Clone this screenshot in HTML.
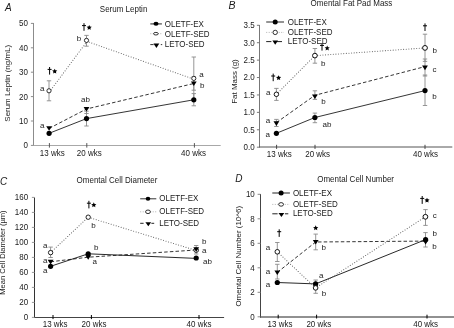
<!DOCTYPE html>
<html><head><meta charset="utf-8"><style>
html,body{margin:0;padding:0;background:#fff;}
body{width:454px;height:328px;overflow:hidden;}
svg{display:block;font-family:"Liberation Sans", sans-serif;filter:grayscale(1);}
</style></head><body>
<svg width="454" height="328" viewBox="0 0 454 328">
<rect width="454" height="328" fill="#fff"/>
<text transform="translate(5.0 10.8) scale(1 1.0)" font-size="10" text-anchor="start" font-style="italic" fill="#1a1a1a">A</text>
<text transform="translate(99.8 11.6) scale(1 1.12)" font-size="8" text-anchor="start" fill="#1a1a1a">Serum Leptin</text>
<line x1="33.5" y1="23.0" x2="33.5" y2="146.0" stroke="#8c8c8c" stroke-width="1" stroke-linecap="butt"/>
<line x1="33.0" y1="145.5" x2="220.7" y2="145.5" stroke="#a8a8a8" stroke-width="1" stroke-linecap="butt"/>
<line x1="30.9" y1="145.4" x2="33.5" y2="145.4" stroke="#8c8c8c" stroke-width="1" stroke-linecap="butt"/>
<text transform="translate(28.0 148.3) scale(1 1.12)" font-size="8" text-anchor="end" fill="#1a1a1a">0</text>
<line x1="30.9" y1="121.0" x2="33.5" y2="121.0" stroke="#8c8c8c" stroke-width="1" stroke-linecap="butt"/>
<text transform="translate(28.0 123.9) scale(1 1.12)" font-size="8" text-anchor="end" fill="#1a1a1a">10</text>
<line x1="30.9" y1="96.60000000000001" x2="33.5" y2="96.60000000000001" stroke="#8c8c8c" stroke-width="1" stroke-linecap="butt"/>
<text transform="translate(28.0 99.50000000000001) scale(1 1.12)" font-size="8" text-anchor="end" fill="#1a1a1a">20</text>
<line x1="30.9" y1="72.2" x2="33.5" y2="72.2" stroke="#8c8c8c" stroke-width="1" stroke-linecap="butt"/>
<text transform="translate(28.0 75.10000000000001) scale(1 1.12)" font-size="8" text-anchor="end" fill="#1a1a1a">30</text>
<line x1="30.9" y1="47.80000000000001" x2="33.5" y2="47.80000000000001" stroke="#8c8c8c" stroke-width="1" stroke-linecap="butt"/>
<text transform="translate(28.0 50.70000000000001) scale(1 1.12)" font-size="8" text-anchor="end" fill="#1a1a1a">40</text>
<line x1="30.9" y1="23.400000000000006" x2="33.5" y2="23.400000000000006" stroke="#8c8c8c" stroke-width="1" stroke-linecap="butt"/>
<text transform="translate(28.0 26.300000000000004) scale(1 1.12)" font-size="8" text-anchor="end" fill="#1a1a1a">50</text>
<line x1="49.4" y1="143.1" x2="49.4" y2="147.6" stroke="#555" stroke-width="1" stroke-linecap="butt"/>
<text transform="translate(39.8 155.9) scale(1 1.12)" font-size="8" text-anchor="start" fill="#1a1a1a">13 wks</text>
<line x1="86.8" y1="143.1" x2="86.8" y2="147.6" stroke="#555" stroke-width="1" stroke-linecap="butt"/>
<text transform="translate(76.8 155.9) scale(1 1.12)" font-size="8" text-anchor="start" fill="#1a1a1a">20 wks</text>
<line x1="194.4" y1="143.1" x2="194.4" y2="147.6" stroke="#555" stroke-width="1" stroke-linecap="butt"/>
<text transform="translate(181.1 155.9) scale(1 1.12)" font-size="8" text-anchor="start" fill="#1a1a1a">40 wks</text>
<text transform="translate(9.7 83.3) rotate(-90) scale(1.12 1)" font-size="7.1" text-anchor="middle" fill="#1a1a1a">Serum Leptin (ng/mL)</text>
<line x1="150.3" y1="23.9" x2="161.9" y2="23.9" stroke="#555" stroke-width="1.3" stroke-linecap="butt"/>
<ellipse cx="156.0" cy="23.8" rx="2.5" ry="2.0" fill="#000"/>
<text transform="translate(164.8 26.7) scale(1 1.12)" font-size="8" text-anchor="start" fill="#1a1a1a">OLETF-EX</text>
<line x1="150.3" y1="33.7" x2="161.9" y2="33.7" stroke="#aaa" stroke-width="0.9" stroke-dasharray="1,1.5" stroke-linecap="butt"/>
<ellipse cx="155.9" cy="33.7" rx="2.3000000000000003" ry="1.2999999999999998" fill="#fff" stroke="#000" stroke-width="0.8"/>
<text transform="translate(164.8 36.5) scale(1 1.12)" font-size="8" text-anchor="start" fill="#1a1a1a">OLETF-SED</text>
<line x1="150.3" y1="44.6" x2="153.6" y2="44.6" stroke="#333" stroke-width="1" stroke-linecap="butt"/>
<line x1="160.8" y1="44.6" x2="162.2" y2="44.6" stroke="#333" stroke-width="1" stroke-linecap="butt"/>
<polygon points="153.5,43.5 159.3,43.5 156.4,47.9" fill="#000"/>
<text transform="translate(164.8 46.6) scale(1 1.12)" font-size="8" text-anchor="start" fill="#1a1a1a">LETO-SED</text>
<line x1="193.8" y1="57.0" x2="193.8" y2="99.8" stroke="#8a8a8a" stroke-width="0.9" stroke-linecap="butt"/>
<line x1="191.60000000000002" y1="57.0" x2="196.0" y2="57.0" stroke="#8a8a8a" stroke-width="0.9" stroke-linecap="butt"/>
<line x1="191.60000000000002" y1="99.8" x2="196.0" y2="99.8" stroke="#8a8a8a" stroke-width="0.9" stroke-linecap="butt"/>
<line x1="193.8" y1="76.8" x2="193.8" y2="90.2" stroke="#8a8a8a" stroke-width="0.9" stroke-linecap="butt"/>
<line x1="191.60000000000002" y1="76.8" x2="196.0" y2="76.8" stroke="#8a8a8a" stroke-width="0.9" stroke-linecap="butt"/>
<line x1="191.60000000000002" y1="90.2" x2="196.0" y2="90.2" stroke="#8a8a8a" stroke-width="0.9" stroke-linecap="butt"/>
<line x1="193.8" y1="93.6" x2="193.8" y2="105.8" stroke="#8a8a8a" stroke-width="0.9" stroke-linecap="butt"/>
<line x1="191.60000000000002" y1="93.6" x2="196.0" y2="93.6" stroke="#8a8a8a" stroke-width="0.9" stroke-linecap="butt"/>
<line x1="191.60000000000002" y1="105.8" x2="196.0" y2="105.8" stroke="#8a8a8a" stroke-width="0.9" stroke-linecap="butt"/>
<line x1="49.0" y1="80.8" x2="49.0" y2="100.8" stroke="#8a8a8a" stroke-width="0.9" stroke-linecap="butt"/>
<line x1="46.8" y1="80.8" x2="51.2" y2="80.8" stroke="#8a8a8a" stroke-width="0.9" stroke-linecap="butt"/>
<line x1="46.8" y1="100.8" x2="51.2" y2="100.8" stroke="#8a8a8a" stroke-width="0.9" stroke-linecap="butt"/>
<line x1="86.5" y1="35.4" x2="86.5" y2="46.2" stroke="#8a8a8a" stroke-width="0.9" stroke-linecap="butt"/>
<line x1="84.3" y1="35.4" x2="88.7" y2="35.4" stroke="#8a8a8a" stroke-width="0.9" stroke-linecap="butt"/>
<line x1="84.3" y1="46.2" x2="88.7" y2="46.2" stroke="#8a8a8a" stroke-width="0.9" stroke-linecap="butt"/>
<line x1="86.5" y1="111.2" x2="86.5" y2="126.0" stroke="#8a8a8a" stroke-width="0.9" stroke-linecap="butt"/>
<line x1="84.3" y1="111.2" x2="88.7" y2="111.2" stroke="#8a8a8a" stroke-width="0.9" stroke-linecap="butt"/>
<line x1="84.3" y1="126.0" x2="88.7" y2="126.0" stroke="#8a8a8a" stroke-width="0.9" stroke-linecap="butt"/>
<line x1="86.5" y1="108.0" x2="86.5" y2="113.5" stroke="#8a8a8a" stroke-width="0.9" stroke-linecap="butt"/>
<line x1="84.3" y1="108.0" x2="88.7" y2="108.0" stroke="#8a8a8a" stroke-width="0.9" stroke-linecap="butt"/>
<line x1="84.3" y1="113.5" x2="88.7" y2="113.5" stroke="#8a8a8a" stroke-width="0.9" stroke-linecap="butt"/>
<polyline points="49.1,133.3 86.5,118.6 193.8,99.8" fill="none" stroke="#111" stroke-width="0.85" stroke-linecap="butt"/>
<polyline points="49.1,128.4 86.5,109.0 193.8,83.5" fill="none" stroke="#111" stroke-width="0.85" stroke-dasharray="3.5,2.2" stroke-linecap="butt"/>
<polyline points="49.5,91.8 87.0,41.4 193.8,79.2" fill="none" stroke="#666" stroke-width="1.1" stroke-dasharray="0.01,2.6" stroke-linecap="round"/>
<circle cx="49.1" cy="133.3" r="2.6" fill="#000"/>
<circle cx="86.5" cy="118.6" r="2.6" fill="#000"/>
<circle cx="193.8" cy="99.8" r="2.6" fill="#000"/>
<polygon points="46.2,126.19999999999999 52.0,126.19999999999999 49.1,130.79999999999998" fill="#000"/>
<polygon points="83.6,107.0 89.4,107.0 86.5,111.6" fill="#000"/>
<polygon points="190.9,81.5 196.70000000000002,81.5 193.8,86.1" fill="#000"/>
<circle cx="49.0" cy="90.8" r="2.1" fill="#fff" stroke="#000" stroke-width="0.8"/>
<circle cx="86.5" cy="40.4" r="2.1" fill="#fff" stroke="#000" stroke-width="0.8"/>
<circle cx="193.8" cy="78.4" r="2.1" fill="#fff" stroke="#000" stroke-width="0.8"/>
<text transform="translate(40.0 90.89999999999999) scale(1 1.0)" font-size="8" text-anchor="start" fill="#1a1a1a">a</text>
<text transform="translate(40.0 128.2) scale(1 1.0)" font-size="8" text-anchor="start" fill="#1a1a1a">a</text>
<text transform="translate(76.8 41.2) scale(1 1.0)" font-size="8" text-anchor="start" fill="#1a1a1a">b</text>
<text transform="translate(81.0 102.19999999999999) scale(1 1.0)" font-size="8" text-anchor="start" fill="#1a1a1a">ab</text>
<text transform="translate(199.2 76.8) scale(1 1.0)" font-size="8" text-anchor="start" fill="#1a1a1a">a</text>
<text transform="translate(200.0 88.19999999999999) scale(1 1.0)" font-size="8" text-anchor="start" fill="#1a1a1a">b</text>
<line x1="49.6" y1="67.0" x2="49.6" y2="74.6" stroke="#000" stroke-width="1.0" stroke-linecap="butt"/>
<line x1="47.6" y1="69.4" x2="51.6" y2="69.4" stroke="#000" stroke-width="1.0" stroke-linecap="butt"/>
<polygon points="54.70,68.70 55.46,70.35 57.27,70.57 55.93,71.80 56.29,73.58 54.70,72.70 53.11,73.58 53.47,71.80 52.13,70.57 53.94,70.35" fill="#000"/>
<line x1="84.0" y1="23.2" x2="84.0" y2="30.799999999999997" stroke="#000" stroke-width="1.0" stroke-linecap="butt"/>
<line x1="82.0" y1="25.599999999999998" x2="86.0" y2="25.599999999999998" stroke="#000" stroke-width="1.0" stroke-linecap="butt"/>
<polygon points="89.20,24.90 89.96,26.55 91.77,26.77 90.43,28.00 90.79,29.78 89.20,28.90 87.61,29.78 87.97,28.00 86.63,26.77 88.44,26.55" fill="#000"/>
<text transform="translate(228.6 9.0) scale(1 1.0)" font-size="10.5" text-anchor="start" font-style="italic" fill="#1a1a1a">B</text>
<text transform="translate(310.6 5.8) scale(1 1.12)" font-size="8" text-anchor="start" fill="#1a1a1a">Omental Fat Pad Mass</text>
<line x1="259.5" y1="25.0" x2="259.5" y2="147.5" stroke="#777" stroke-width="1" stroke-linecap="butt"/>
<line x1="259.0" y1="147.0" x2="452.3" y2="147.0" stroke="#555" stroke-width="1" stroke-linecap="butt"/>
<line x1="256.9" y1="147.2" x2="259.5" y2="147.2" stroke="#777" stroke-width="1" stroke-linecap="butt"/>
<text transform="translate(254.6 150.1) scale(1 1.12)" font-size="8" text-anchor="end" fill="#1a1a1a">0.0</text>
<line x1="256.9" y1="129.785" x2="259.5" y2="129.785" stroke="#777" stroke-width="1" stroke-linecap="butt"/>
<text transform="translate(254.6 132.685) scale(1 1.12)" font-size="8" text-anchor="end" fill="#1a1a1a">0.5</text>
<line x1="256.9" y1="112.36999999999999" x2="259.5" y2="112.36999999999999" stroke="#777" stroke-width="1" stroke-linecap="butt"/>
<text transform="translate(254.6 115.27) scale(1 1.12)" font-size="8" text-anchor="end" fill="#1a1a1a">1.0</text>
<line x1="256.9" y1="94.95499999999998" x2="259.5" y2="94.95499999999998" stroke="#777" stroke-width="1" stroke-linecap="butt"/>
<text transform="translate(254.6 97.85499999999999) scale(1 1.12)" font-size="8" text-anchor="end" fill="#1a1a1a">1.5</text>
<line x1="256.9" y1="77.53999999999999" x2="259.5" y2="77.53999999999999" stroke="#777" stroke-width="1" stroke-linecap="butt"/>
<text transform="translate(254.6 80.44) scale(1 1.12)" font-size="8" text-anchor="end" fill="#1a1a1a">2.0</text>
<line x1="256.9" y1="60.125" x2="259.5" y2="60.125" stroke="#777" stroke-width="1" stroke-linecap="butt"/>
<text transform="translate(254.6 63.025) scale(1 1.12)" font-size="8" text-anchor="end" fill="#1a1a1a">2.5</text>
<line x1="256.9" y1="42.709999999999994" x2="259.5" y2="42.709999999999994" stroke="#777" stroke-width="1" stroke-linecap="butt"/>
<text transform="translate(254.6 45.60999999999999) scale(1 1.12)" font-size="8" text-anchor="end" fill="#1a1a1a">3.0</text>
<line x1="256.9" y1="25.294999999999987" x2="259.5" y2="25.294999999999987" stroke="#777" stroke-width="1" stroke-linecap="butt"/>
<text transform="translate(254.6 28.194999999999986) scale(1 1.12)" font-size="8" text-anchor="end" fill="#1a1a1a">3.5</text>
<line x1="276.6" y1="144.8" x2="276.6" y2="148.9" stroke="#444" stroke-width="1" stroke-linecap="butt"/>
<text transform="translate(266.8 157.0) scale(1 1.12)" font-size="8" text-anchor="start" fill="#1a1a1a">13 wks</text>
<line x1="315.0" y1="144.8" x2="315.0" y2="148.9" stroke="#444" stroke-width="1" stroke-linecap="butt"/>
<text transform="translate(305.2 157.0) scale(1 1.12)" font-size="8" text-anchor="start" fill="#1a1a1a">20 wks</text>
<line x1="425.0" y1="144.8" x2="425.0" y2="148.9" stroke="#444" stroke-width="1" stroke-linecap="butt"/>
<text transform="translate(413.0 157.0) scale(1 1.12)" font-size="8" text-anchor="start" fill="#1a1a1a">40 wks</text>
<text transform="translate(236.7 81.5) rotate(-90) scale(1.12 1)" font-size="7.1" text-anchor="middle" fill="#1a1a1a">Fat Mass (g)</text>
<line x1="266.2" y1="22.0" x2="284.0" y2="22.0" stroke="#666" stroke-width="1.4" stroke-linecap="butt"/>
<circle cx="275.2" cy="22.0" r="2.5" fill="#000"/>
<text transform="translate(287.7 25.0) scale(1 1.12)" font-size="8" text-anchor="start" fill="#1a1a1a">OLETF-EX</text>
<line x1="266.2" y1="32.4" x2="284.0" y2="32.4" stroke="#aaa" stroke-width="0.9" stroke-dasharray="1,1.5" stroke-linecap="butt"/>
<circle cx="275.2" cy="32.4" r="2.2" fill="#fff" stroke="#000" stroke-width="0.8"/>
<text transform="translate(287.7 34.8) scale(1 1.12)" font-size="8" text-anchor="start" fill="#1a1a1a">OLETF-SED</text>
<line x1="266.2" y1="41.6" x2="271.4" y2="41.6" stroke="#222" stroke-width="1" stroke-linecap="butt"/>
<line x1="276.7" y1="41.6" x2="282.0" y2="41.6" stroke="#222" stroke-width="1" stroke-linecap="butt"/>
<polygon points="272.4,40.400000000000006 278.0,40.400000000000006 275.2,44.800000000000004" fill="#000"/>
<text transform="translate(287.7 43.6) scale(1 1.12)" font-size="8" text-anchor="start" fill="#1a1a1a">LETO-SED</text>
<line x1="276.4" y1="88.4" x2="276.4" y2="100.4" stroke="#8a8a8a" stroke-width="0.9" stroke-linecap="butt"/>
<line x1="274.2" y1="88.4" x2="278.59999999999997" y2="88.4" stroke="#8a8a8a" stroke-width="0.9" stroke-linecap="butt"/>
<line x1="274.2" y1="100.4" x2="278.59999999999997" y2="100.4" stroke="#8a8a8a" stroke-width="0.9" stroke-linecap="butt"/>
<line x1="276.4" y1="119.4" x2="276.4" y2="126.5" stroke="#8a8a8a" stroke-width="0.9" stroke-linecap="butt"/>
<line x1="274.2" y1="119.4" x2="278.59999999999997" y2="119.4" stroke="#8a8a8a" stroke-width="0.9" stroke-linecap="butt"/>
<line x1="274.2" y1="126.5" x2="278.59999999999997" y2="126.5" stroke="#8a8a8a" stroke-width="0.9" stroke-linecap="butt"/>
<line x1="314.9" y1="48.5" x2="314.9" y2="63.2" stroke="#8a8a8a" stroke-width="0.9" stroke-linecap="butt"/>
<line x1="312.7" y1="48.5" x2="317.09999999999997" y2="48.5" stroke="#8a8a8a" stroke-width="0.9" stroke-linecap="butt"/>
<line x1="312.7" y1="63.2" x2="317.09999999999997" y2="63.2" stroke="#8a8a8a" stroke-width="0.9" stroke-linecap="butt"/>
<line x1="314.9" y1="90.8" x2="314.9" y2="99.4" stroke="#8a8a8a" stroke-width="0.9" stroke-linecap="butt"/>
<line x1="312.7" y1="90.8" x2="317.09999999999997" y2="90.8" stroke="#8a8a8a" stroke-width="0.9" stroke-linecap="butt"/>
<line x1="312.7" y1="99.4" x2="317.09999999999997" y2="99.4" stroke="#8a8a8a" stroke-width="0.9" stroke-linecap="butt"/>
<line x1="314.9" y1="113.1" x2="314.9" y2="122.7" stroke="#8a8a8a" stroke-width="0.9" stroke-linecap="butt"/>
<line x1="312.7" y1="113.1" x2="317.09999999999997" y2="113.1" stroke="#8a8a8a" stroke-width="0.9" stroke-linecap="butt"/>
<line x1="312.7" y1="122.7" x2="317.09999999999997" y2="122.7" stroke="#8a8a8a" stroke-width="0.9" stroke-linecap="butt"/>
<line x1="425.0" y1="34.2" x2="425.0" y2="61.4" stroke="#8a8a8a" stroke-width="0.9" stroke-linecap="butt"/>
<line x1="422.8" y1="34.2" x2="427.2" y2="34.2" stroke="#8a8a8a" stroke-width="0.9" stroke-linecap="butt"/>
<line x1="422.8" y1="61.4" x2="427.2" y2="61.4" stroke="#8a8a8a" stroke-width="0.9" stroke-linecap="butt"/>
<line x1="425.0" y1="59.0" x2="425.0" y2="76.0" stroke="#8a8a8a" stroke-width="0.9" stroke-linecap="butt"/>
<line x1="422.8" y1="59.0" x2="427.2" y2="59.0" stroke="#8a8a8a" stroke-width="0.9" stroke-linecap="butt"/>
<line x1="422.8" y1="76.0" x2="427.2" y2="76.0" stroke="#8a8a8a" stroke-width="0.9" stroke-linecap="butt"/>
<line x1="425.0" y1="75.0" x2="425.0" y2="105.5" stroke="#8a8a8a" stroke-width="0.9" stroke-linecap="butt"/>
<line x1="422.8" y1="75.0" x2="427.2" y2="75.0" stroke="#8a8a8a" stroke-width="0.9" stroke-linecap="butt"/>
<line x1="422.8" y1="105.5" x2="427.2" y2="105.5" stroke="#8a8a8a" stroke-width="0.9" stroke-linecap="butt"/>
<polyline points="276.4,133.3 314.9,117.5 425.0,90.6" fill="none" stroke="#111" stroke-width="0.85" stroke-linecap="butt"/>
<polyline points="276.4,122.6 314.9,95.3 425.0,66.6" fill="none" stroke="#111" stroke-width="0.85" stroke-dasharray="3.5,2.2" stroke-linecap="butt"/>
<polyline points="276.4,94.3 314.9,55.6 425.0,47.9" fill="none" stroke="#666" stroke-width="1.1" stroke-dasharray="0.01,2.6" stroke-linecap="round"/>
<circle cx="276.4" cy="133.3" r="2.6" fill="#000"/>
<circle cx="314.9" cy="117.5" r="2.6" fill="#000"/>
<circle cx="425.0" cy="90.6" r="2.6" fill="#000"/>
<polygon points="273.5,121.3 279.29999999999995,121.3 276.4,125.89999999999999" fill="#000"/>
<polygon points="312.0,94.4 317.79999999999995,94.4 314.9,99.0" fill="#000"/>
<polygon points="422.1,65.6 427.9,65.6 425.0,70.19999999999999" fill="#000"/>
<circle cx="276.4" cy="94.3" r="2.25" fill="#fff" stroke="#000" stroke-width="0.9"/>
<circle cx="314.9" cy="55.6" r="2.35" fill="#fff" stroke="#000" stroke-width="0.95"/>
<circle cx="425.0" cy="47.9" r="2.4" fill="#fff" stroke="#000" stroke-width="0.95"/>
<text transform="translate(266.0 95.19999999999999) scale(1 1.0)" font-size="8" text-anchor="start" fill="#1a1a1a">a</text>
<text transform="translate(265.8 122.8) scale(1 1.0)" font-size="8" text-anchor="start" fill="#1a1a1a">a</text>
<text transform="translate(265.6 136.9) scale(1 1.0)" font-size="8" text-anchor="start" fill="#1a1a1a">a</text>
<text transform="translate(321.0 66.0) scale(1 1.0)" font-size="8" text-anchor="start" fill="#1a1a1a">b</text>
<text transform="translate(321.3 104.0) scale(1 1.0)" font-size="8" text-anchor="start" fill="#1a1a1a">b</text>
<text transform="translate(322.6 126.8) scale(1 1.0)" font-size="8" text-anchor="start" fill="#1a1a1a">ab</text>
<text transform="translate(432.4 53.0) scale(1 1.0)" font-size="8" text-anchor="start" fill="#1a1a1a">b</text>
<text transform="translate(432.4 72.19999999999999) scale(1 1.0)" font-size="8" text-anchor="start" fill="#1a1a1a">c</text>
<text transform="translate(432.2 99.19999999999999) scale(1 1.0)" font-size="8" text-anchor="start" fill="#1a1a1a">b</text>
<line x1="273.2" y1="73.6" x2="273.2" y2="81.19999999999999" stroke="#000" stroke-width="1.0" stroke-linecap="butt"/>
<line x1="271.2" y1="76.0" x2="275.2" y2="76.0" stroke="#000" stroke-width="1.0" stroke-linecap="butt"/>
<polygon points="278.60,75.20 279.36,76.85 281.17,77.07 279.83,78.30 280.19,80.08 278.60,79.20 277.01,80.08 277.37,78.30 276.03,77.07 277.84,76.85" fill="#000"/>
<line x1="322.0" y1="43.0" x2="322.0" y2="50.6" stroke="#000" stroke-width="1.0" stroke-linecap="butt"/>
<line x1="320.0" y1="45.4" x2="324.0" y2="45.4" stroke="#000" stroke-width="1.0" stroke-linecap="butt"/>
<polygon points="327.20,45.50 327.96,47.15 329.77,47.37 328.43,48.60 328.79,50.38 327.20,49.50 325.61,50.38 325.97,48.60 324.63,47.37 326.44,47.15" fill="#000"/>
<line x1="425.0" y1="23.4" x2="425.0" y2="31.0" stroke="#000" stroke-width="1.0" stroke-linecap="butt"/>
<line x1="423.0" y1="25.799999999999997" x2="427.0" y2="25.799999999999997" stroke="#000" stroke-width="1.0" stroke-linecap="butt"/>
<text transform="translate(0.0 184.7) scale(1 1.0)" font-size="10" text-anchor="start" font-style="italic" fill="#1a1a1a">C</text>
<text transform="translate(76.6 182.6) scale(1 1.12)" font-size="8" text-anchor="start" fill="#1a1a1a">Omental Cell Diameter</text>
<line x1="34.5" y1="197.5" x2="34.5" y2="318.0" stroke="#333" stroke-width="1" stroke-linecap="butt"/>
<line x1="34.0" y1="317.5" x2="224.1" y2="317.5" stroke="#444" stroke-width="1" stroke-linecap="butt"/>
<line x1="31.9" y1="317.4" x2="34.5" y2="317.4" stroke="#999" stroke-width="1" stroke-linecap="butt"/>
<text transform="translate(28.2 320.29999999999995) scale(1 1.12)" font-size="8" text-anchor="end" fill="#1a1a1a">0</text>
<line x1="31.9" y1="302.4" x2="34.5" y2="302.4" stroke="#999" stroke-width="1" stroke-linecap="butt"/>
<text transform="translate(28.2 305.29999999999995) scale(1 1.12)" font-size="8" text-anchor="end" fill="#1a1a1a">20</text>
<line x1="31.9" y1="287.4" x2="34.5" y2="287.4" stroke="#999" stroke-width="1" stroke-linecap="butt"/>
<text transform="translate(28.2 290.29999999999995) scale(1 1.12)" font-size="8" text-anchor="end" fill="#1a1a1a">40</text>
<line x1="31.9" y1="272.4" x2="34.5" y2="272.4" stroke="#999" stroke-width="1" stroke-linecap="butt"/>
<text transform="translate(28.2 275.29999999999995) scale(1 1.12)" font-size="8" text-anchor="end" fill="#1a1a1a">60</text>
<line x1="31.9" y1="257.4" x2="34.5" y2="257.4" stroke="#999" stroke-width="1" stroke-linecap="butt"/>
<text transform="translate(28.2 260.29999999999995) scale(1 1.12)" font-size="8" text-anchor="end" fill="#1a1a1a">80</text>
<line x1="31.9" y1="242.39999999999998" x2="34.5" y2="242.39999999999998" stroke="#999" stroke-width="1" stroke-linecap="butt"/>
<text transform="translate(28.2 245.29999999999998) scale(1 1.12)" font-size="8" text-anchor="end" fill="#1a1a1a">100</text>
<line x1="31.9" y1="227.39999999999998" x2="34.5" y2="227.39999999999998" stroke="#999" stroke-width="1" stroke-linecap="butt"/>
<text transform="translate(28.2 230.29999999999998) scale(1 1.12)" font-size="8" text-anchor="end" fill="#1a1a1a">120</text>
<line x1="31.9" y1="212.39999999999998" x2="34.5" y2="212.39999999999998" stroke="#999" stroke-width="1" stroke-linecap="butt"/>
<text transform="translate(28.2 215.29999999999998) scale(1 1.12)" font-size="8" text-anchor="end" fill="#1a1a1a">140</text>
<line x1="31.9" y1="197.39999999999998" x2="34.5" y2="197.39999999999998" stroke="#999" stroke-width="1" stroke-linecap="butt"/>
<text transform="translate(28.2 200.29999999999998) scale(1 1.12)" font-size="8" text-anchor="end" fill="#1a1a1a">160</text>
<line x1="53.0" y1="315.0" x2="53.0" y2="319.1" stroke="#000" stroke-width="1" stroke-linecap="butt"/>
<text transform="translate(42.7 327.4) scale(1 1.12)" font-size="8" text-anchor="start" fill="#1a1a1a">13 wks</text>
<line x1="91.4" y1="315.0" x2="91.4" y2="319.1" stroke="#000" stroke-width="1" stroke-linecap="butt"/>
<text transform="translate(81.6 327.4) scale(1 1.12)" font-size="8" text-anchor="start" fill="#1a1a1a">20 wks</text>
<line x1="199.0" y1="315.0" x2="199.0" y2="319.1" stroke="#000" stroke-width="1" stroke-linecap="butt"/>
<text transform="translate(186.6 327.4) scale(1 1.12)" font-size="8" text-anchor="start" fill="#1a1a1a">40 wks</text>
<text transform="translate(5.3 252.6) rotate(-90) scale(1.035 1)" font-size="7.3" text-anchor="middle" fill="#1a1a1a">Mean Cell Diameter (µm)</text>
<line x1="140.2" y1="198.8" x2="156.3" y2="198.8" stroke="#333" stroke-width="1" stroke-linecap="butt"/>
<ellipse cx="148.0" cy="198.8" rx="2.3" ry="2.0" fill="#000"/>
<text transform="translate(159.3 201.1) scale(1 1.12)" font-size="8" text-anchor="start" fill="#1a1a1a">OLETF-EX</text>
<line x1="140.2" y1="211.8" x2="156.3" y2="211.8" stroke="#aaa" stroke-width="0.9" stroke-dasharray="1,1.5" stroke-linecap="butt"/>
<ellipse cx="148.0" cy="211.8" rx="2.4" ry="1.8000000000000003" fill="#fff" stroke="#000" stroke-width="0.8"/>
<text transform="translate(159.3 214.2) scale(1 1.12)" font-size="8" text-anchor="start" fill="#1a1a1a">OLETF-SED</text>
<line x1="140.2" y1="223.3" x2="143.6" y2="223.3" stroke="#222" stroke-width="1" stroke-linecap="butt"/>
<line x1="151.4" y1="223.3" x2="154.2" y2="223.3" stroke="#222" stroke-width="1" stroke-linecap="butt"/>
<polygon points="145.4,222.2 151.20000000000002,222.2 148.3,226.2" fill="#000"/>
<text transform="translate(159.3 225.8) scale(1 1.12)" font-size="8" text-anchor="start" fill="#1a1a1a">LETO-SED</text>
<line x1="50.6" y1="247.1" x2="50.6" y2="257.5" stroke="#8a8a8a" stroke-width="0.9" stroke-linecap="butt"/>
<line x1="48.4" y1="247.1" x2="52.800000000000004" y2="247.1" stroke="#8a8a8a" stroke-width="0.9" stroke-linecap="butt"/>
<line x1="48.4" y1="257.5" x2="52.800000000000004" y2="257.5" stroke="#8a8a8a" stroke-width="0.9" stroke-linecap="butt"/>
<line x1="196.2" y1="245.5" x2="196.2" y2="254.0" stroke="#8a8a8a" stroke-width="0.9" stroke-linecap="butt"/>
<line x1="194.0" y1="245.5" x2="198.39999999999998" y2="245.5" stroke="#8a8a8a" stroke-width="0.9" stroke-linecap="butt"/>
<line x1="194.0" y1="254.0" x2="198.39999999999998" y2="254.0" stroke="#8a8a8a" stroke-width="0.9" stroke-linecap="butt"/>
<polyline points="50.6,266.3 88.2,253.8 196.2,258.4" fill="none" stroke="#111" stroke-width="0.9" stroke-linecap="butt"/>
<polyline points="50.6,261.8 88.2,257.2 196.2,250.0" fill="none" stroke="#111" stroke-width="0.85" stroke-dasharray="3.5,2.2" stroke-linecap="butt"/>
<polyline points="50.6,252.6 88.2,217.2 196.2,250.5" fill="none" stroke="#666" stroke-width="1.1" stroke-dasharray="0.01,2.6" stroke-linecap="round"/>
<polygon points="47.7,259.8 53.5,259.8 50.6,264.40000000000003" fill="#000"/>
<polygon points="85.3,255.2 91.10000000000001,255.2 88.2,259.8" fill="#000"/>
<circle cx="50.6" cy="266.3" r="2.6" fill="#000"/>
<circle cx="88.2" cy="253.8" r="2.6" fill="#000"/>
<circle cx="196.2" cy="258.0" r="2.6" fill="#000"/>
<circle cx="50.6" cy="252.6" r="2.2" fill="#fff" stroke="#000" stroke-width="0.85"/>
<circle cx="88.2" cy="217.2" r="2.2" fill="#fff" stroke="#000" stroke-width="0.85"/>
<circle cx="196.2" cy="250.2" r="2.3" fill="#fff" stroke="#000" stroke-width="0.85"/>
<polygon points="193.29999999999998,247.3 199.1,247.3 196.2,251.9" fill="#000"/>
<text transform="translate(43.1 248.2) scale(1 1.0)" font-size="8" text-anchor="start" fill="#1a1a1a">a</text>
<text transform="translate(43.1 262.8) scale(1 1.0)" font-size="8" text-anchor="start" fill="#1a1a1a">a</text>
<text transform="translate(43.1 272.5) scale(1 1.0)" font-size="8" text-anchor="start" fill="#1a1a1a">a</text>
<text transform="translate(91.3 227.7) scale(1 1.0)" font-size="8" text-anchor="start" fill="#1a1a1a">b</text>
<text transform="translate(94.0 249.9) scale(1 1.0)" font-size="8" text-anchor="start" fill="#1a1a1a">b</text>
<text transform="translate(92.6 264.40000000000003) scale(1 1.0)" font-size="8" text-anchor="start" fill="#1a1a1a">a</text>
<text transform="translate(202.0 243.9) scale(1 1.0)" font-size="8" text-anchor="start" fill="#1a1a1a">b</text>
<text transform="translate(202.0 253.1) scale(1 1.0)" font-size="8" text-anchor="start" fill="#1a1a1a">a</text>
<text transform="translate(203.0 264.1) scale(1 1.0)" font-size="8" text-anchor="start" fill="#1a1a1a">ab</text>
<line x1="88.9" y1="200.8" x2="88.9" y2="208.4" stroke="#000" stroke-width="1.0" stroke-linecap="butt"/>
<line x1="86.9" y1="203.20000000000002" x2="90.9" y2="203.20000000000002" stroke="#000" stroke-width="1.0" stroke-linecap="butt"/>
<polygon points="93.80,202.30 94.56,203.95 96.37,204.17 95.03,205.40 95.39,207.18 93.80,206.30 92.21,207.18 92.57,205.40 91.23,204.17 93.04,203.95" fill="#000"/>
<text transform="translate(235.3 181.6) scale(1 1.0)" font-size="10" text-anchor="start" font-style="italic" fill="#1a1a1a">D</text>
<text transform="translate(317.2 182.1) scale(1 1.12)" font-size="8" text-anchor="start" fill="#1a1a1a">Omental Cell Number</text>
<line x1="260.5" y1="194.0" x2="260.5" y2="317.5" stroke="#444" stroke-width="1" stroke-linecap="butt"/>
<line x1="260.0" y1="317.0" x2="454" y2="317.0" stroke="#222" stroke-width="1" stroke-linecap="butt"/>
<line x1="257.6" y1="316.8" x2="260.5" y2="316.8" stroke="#888" stroke-width="1" stroke-linecap="butt"/>
<text transform="translate(254.8 319.7) scale(1 1.12)" font-size="8" text-anchor="end" fill="#1a1a1a">0</text>
<line x1="257.6" y1="292.3" x2="260.5" y2="292.3" stroke="#888" stroke-width="1" stroke-linecap="butt"/>
<text transform="translate(254.8 295.2) scale(1 1.12)" font-size="8" text-anchor="end" fill="#1a1a1a">2</text>
<line x1="257.6" y1="267.8" x2="260.5" y2="267.8" stroke="#888" stroke-width="1" stroke-linecap="butt"/>
<text transform="translate(254.8 270.7) scale(1 1.12)" font-size="8" text-anchor="end" fill="#1a1a1a">4</text>
<line x1="257.6" y1="243.3" x2="260.5" y2="243.3" stroke="#888" stroke-width="1" stroke-linecap="butt"/>
<text transform="translate(254.8 246.20000000000002) scale(1 1.12)" font-size="8" text-anchor="end" fill="#1a1a1a">6</text>
<line x1="257.6" y1="218.8" x2="260.5" y2="218.8" stroke="#888" stroke-width="1" stroke-linecap="butt"/>
<text transform="translate(254.8 221.70000000000002) scale(1 1.12)" font-size="8" text-anchor="end" fill="#1a1a1a">8</text>
<line x1="257.6" y1="194.3" x2="260.5" y2="194.3" stroke="#888" stroke-width="1" stroke-linecap="butt"/>
<text transform="translate(254.8 197.20000000000002) scale(1 1.12)" font-size="8" text-anchor="end" fill="#1a1a1a">10</text>
<line x1="278.2" y1="314.7" x2="278.2" y2="318.5" stroke="#000" stroke-width="1" stroke-linecap="butt"/>
<text transform="translate(267.6 327.4) scale(1 1.12)" font-size="8" text-anchor="start" fill="#1a1a1a">13 wks</text>
<line x1="316.6" y1="314.7" x2="316.6" y2="318.5" stroke="#000" stroke-width="1" stroke-linecap="butt"/>
<text transform="translate(306.4 327.4) scale(1 1.12)" font-size="8" text-anchor="start" fill="#1a1a1a">20 wks</text>
<line x1="427.0" y1="314.7" x2="427.0" y2="318.5" stroke="#000" stroke-width="1" stroke-linecap="butt"/>
<text transform="translate(413.2 327.4) scale(1 1.12)" font-size="8" text-anchor="start" fill="#1a1a1a">40 wks</text>
<text transform="translate(241.1 256.3) rotate(-90) scale(1.12 1)" font-size="7.1" text-anchor="middle" fill="#1a1a1a">Omental Cell Number (10^6)</text>
<line x1="272.3" y1="193.0" x2="289.9" y2="193.0" stroke="#555" stroke-width="1.3" stroke-linecap="butt"/>
<circle cx="281.1" cy="193.0" r="2.5" fill="#000"/>
<text transform="translate(292.9 195.6) scale(1 1.12)" font-size="8" text-anchor="start" fill="#1a1a1a">OLETF-EX</text>
<line x1="272.3" y1="204.4" x2="289.9" y2="204.4" stroke="#aaa" stroke-width="0.9" stroke-dasharray="1,1.5" stroke-linecap="butt"/>
<ellipse cx="281.1" cy="204.4" rx="2.4" ry="1.8000000000000003" fill="#fff" stroke="#000" stroke-width="0.8"/>
<text transform="translate(292.9 207.1) scale(1 1.12)" font-size="8" text-anchor="start" fill="#1a1a1a">OLETF-SED</text>
<line x1="272.3" y1="213.8" x2="277.6" y2="213.8" stroke="#222" stroke-width="1" stroke-linecap="butt"/>
<line x1="285.0" y1="213.8" x2="288.3" y2="213.8" stroke="#222" stroke-width="1" stroke-linecap="butt"/>
<polygon points="278.5,213.0 284.29999999999995,213.0 281.4,217.1" fill="#000"/>
<text transform="translate(292.9 216.3) scale(1 1.12)" font-size="8" text-anchor="start" fill="#1a1a1a">LETO-SED</text>
<line x1="277.3" y1="242.5" x2="277.3" y2="261.5" stroke="#8a8a8a" stroke-width="0.9" stroke-linecap="butt"/>
<line x1="275.1" y1="242.5" x2="279.5" y2="242.5" stroke="#8a8a8a" stroke-width="0.9" stroke-linecap="butt"/>
<line x1="275.1" y1="261.5" x2="279.5" y2="261.5" stroke="#8a8a8a" stroke-width="0.9" stroke-linecap="butt"/>
<line x1="277.3" y1="264.3" x2="277.3" y2="279.0" stroke="#8a8a8a" stroke-width="0.9" stroke-linecap="butt"/>
<line x1="275.1" y1="264.3" x2="279.5" y2="264.3" stroke="#8a8a8a" stroke-width="0.9" stroke-linecap="butt"/>
<line x1="275.1" y1="279.0" x2="279.5" y2="279.0" stroke="#8a8a8a" stroke-width="0.9" stroke-linecap="butt"/>
<line x1="315.7" y1="234.1" x2="315.7" y2="249.8" stroke="#8a8a8a" stroke-width="0.9" stroke-linecap="butt"/>
<line x1="313.5" y1="234.1" x2="317.9" y2="234.1" stroke="#8a8a8a" stroke-width="0.9" stroke-linecap="butt"/>
<line x1="313.5" y1="249.8" x2="317.9" y2="249.8" stroke="#8a8a8a" stroke-width="0.9" stroke-linecap="butt"/>
<line x1="315.7" y1="280.0" x2="315.7" y2="293.3" stroke="#8a8a8a" stroke-width="0.9" stroke-linecap="butt"/>
<line x1="313.5" y1="280.0" x2="317.9" y2="280.0" stroke="#8a8a8a" stroke-width="0.9" stroke-linecap="butt"/>
<line x1="313.5" y1="293.3" x2="317.9" y2="293.3" stroke="#8a8a8a" stroke-width="0.9" stroke-linecap="butt"/>
<line x1="425.5" y1="209.6" x2="425.5" y2="225.4" stroke="#8a8a8a" stroke-width="0.9" stroke-linecap="butt"/>
<line x1="423.3" y1="209.6" x2="427.7" y2="209.6" stroke="#8a8a8a" stroke-width="0.9" stroke-linecap="butt"/>
<line x1="423.3" y1="225.4" x2="427.7" y2="225.4" stroke="#8a8a8a" stroke-width="0.9" stroke-linecap="butt"/>
<line x1="425.5" y1="232.6" x2="425.5" y2="247.0" stroke="#8a8a8a" stroke-width="0.9" stroke-linecap="butt"/>
<line x1="423.3" y1="232.6" x2="427.7" y2="232.6" stroke="#8a8a8a" stroke-width="0.9" stroke-linecap="butt"/>
<line x1="423.3" y1="247.0" x2="427.7" y2="247.0" stroke="#8a8a8a" stroke-width="0.9" stroke-linecap="butt"/>
<polyline points="277.3,282.5 315.6,283.9 425.6,239.6" fill="none" stroke="#111" stroke-width="0.9" stroke-linecap="butt"/>
<polyline points="277.3,272.4 315.7,242.0 425.6,241.1" fill="none" stroke="#111" stroke-width="0.85" stroke-dasharray="3.5,2.2" stroke-linecap="butt"/>
<polyline points="277.3,251.8 315.6,287.9 425.4,216.8" fill="none" stroke="#666" stroke-width="1.1" stroke-dasharray="0.01,2.6" stroke-linecap="round"/>
<polygon points="274.40000000000003,270.4 280.2,270.4 277.3,275.0" fill="#000"/>
<polygon points="312.8,240.0 318.59999999999997,240.0 315.7,244.6" fill="#000"/>
<polygon points="422.70000000000005,240.0 428.5,240.0 425.6,244.6" fill="#000"/>
<circle cx="277.3" cy="282.5" r="2.6" fill="#000"/>
<circle cx="315.6" cy="283.9" r="2.6" fill="#000"/>
<circle cx="425.6" cy="239.6" r="2.6" fill="#000"/>
<circle cx="277.3" cy="251.8" r="2.3" fill="#fff" stroke="#000" stroke-width="0.9"/>
<circle cx="315.6" cy="287.9" r="2.3" fill="#fff" stroke="#000" stroke-width="0.9"/>
<circle cx="425.4" cy="216.8" r="2.4" fill="#fff" stroke="#000" stroke-width="0.95"/>
<text transform="translate(265.7 250.4) scale(1 1.0)" font-size="8" text-anchor="start" fill="#1a1a1a">a</text>
<text transform="translate(265.7 273.90000000000003) scale(1 1.0)" font-size="8" text-anchor="start" fill="#1a1a1a">a</text>
<text transform="translate(265.7 287.3) scale(1 1.0)" font-size="8" text-anchor="start" fill="#1a1a1a">a</text>
<text transform="translate(321.4 250.29999999999998) scale(1 1.0)" font-size="8" text-anchor="start" fill="#1a1a1a">b</text>
<text transform="translate(319.0 278.3) scale(1 1.0)" font-size="8" text-anchor="start" fill="#1a1a1a">a</text>
<text transform="translate(321.7 296.0) scale(1 1.0)" font-size="8" text-anchor="start" fill="#1a1a1a">b</text>
<text transform="translate(432.4 236.0) scale(1 1.0)" font-size="8" text-anchor="start" fill="#1a1a1a">b</text>
<text transform="translate(432.2 249.2) scale(1 1.0)" font-size="8" text-anchor="start" fill="#1a1a1a">b</text>
<text transform="translate(432.7 217.6) scale(1 1.0)" font-size="8" text-anchor="start" fill="#1a1a1a">c</text>
<line x1="279.2" y1="229.3" x2="279.2" y2="236.9" stroke="#000" stroke-width="1.0" stroke-linecap="butt"/>
<line x1="277.2" y1="231.70000000000002" x2="281.2" y2="231.70000000000002" stroke="#000" stroke-width="1.0" stroke-linecap="butt"/>
<polygon points="315.70,225.30 316.46,226.95 318.27,227.17 316.93,228.40 317.29,230.18 315.70,229.30 314.11,230.18 314.47,228.40 313.13,227.17 314.94,226.95" fill="#000"/>
<line x1="422.2" y1="196.0" x2="422.2" y2="203.9" stroke="#000" stroke-width="1.0" stroke-linecap="butt"/>
<line x1="420.2" y1="198.4" x2="424.2" y2="198.4" stroke="#000" stroke-width="1.0" stroke-linecap="butt"/>
<polygon points="427.00,197.70 427.76,199.35 429.57,199.57 428.23,200.80 428.59,202.58 427.00,201.70 425.41,202.58 425.77,200.80 424.43,199.57 426.24,199.35" fill="#000"/>
</svg>
</body></html>
